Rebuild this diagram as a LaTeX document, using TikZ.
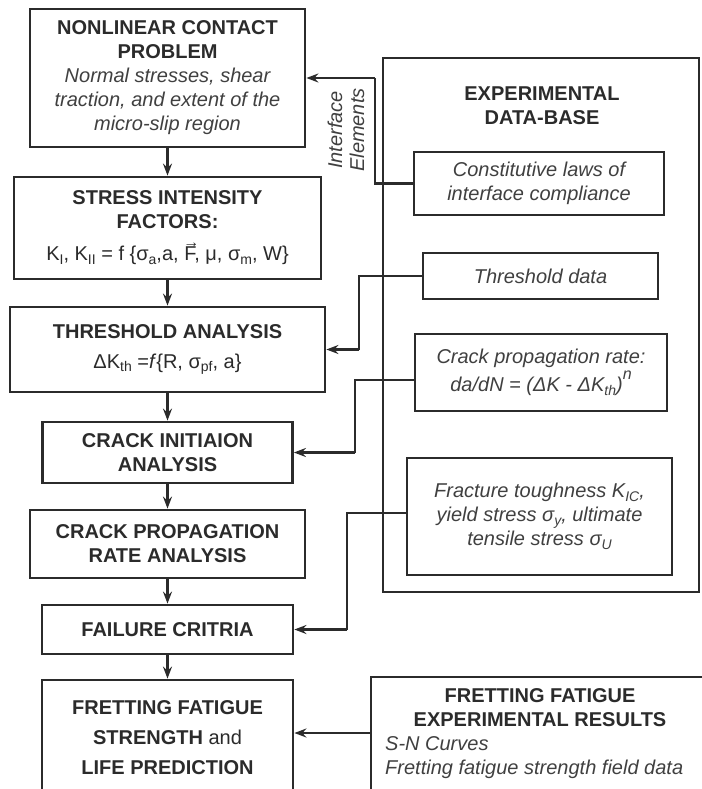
\documentclass[tikz,border=0pt]{standalone}
\usepackage{fontspec}
\setmainfont{Liberation Sans}
\usetikzlibrary{arrows.meta,calc}
\definecolor{ink}{gray}{0.17}
\definecolor{soft}{gray}{0.25}
\newcommand\sbx[1]{\raisebox{-0.35ex}{\fontsize{14}{14}\selectfont #1}}
\newcommand\vecF{\makebox[0pt][l]{\hspace*{-1pt}\raisebox{13pt}{\fontsize{16}{16}\selectfont →}}F}
\tikzset{
  box/.style={draw=ink, line width=2.8pt, inner sep=0pt, text=ink, align=center,
    font=\fontsize{20}{24}\selectfont},
  ibox/.style={box, text=soft, font=\fontsize{20}{24}\selectfont\itshape},
  lbl/.style={inner sep=0pt, text=ink, align=center, font=\fontsize{20}{24}\selectfont},
  arr/.style={draw=ink, line width=2.2pt, -{Stealth[length=12pt,width=9pt,inset=4pt]}},
  wire/.style={draw=ink, line width=2.2pt},
}
\begin{document}
\begin{tikzpicture}[x=1pt,y=-1pt]
\useasboundingbox (0,0) rectangle (701,789);
\fill[white] (0,0) rectangle (701,789);
% left column
\node[box, minimum width=275pt, minimum height=138pt] (b1) at (167.5,78)
  {\textbf{NONLINEAR CONTACT}\\\textbf{PROBLEM}\\\textit{\color{soft}Normal stresses, shear}\\\textit{\color{soft}traction, and extent of the}\\\textit{\color{soft}micro-slip region}};
\node[box, minimum width=307pt, minimum height=102pt] (b2) at (167.5,228)
  {\textbf{STRESS INTENSITY}\\\textbf{FACTORS:}\\[8pt]K\sbx{I}, K\sbx{II} = f \{σ\sbx{a},a, \vecF, μ, σ\sbx{m}, W\}};
\node[box, minimum width=315pt, minimum height=85pt] (b3) at (167.5,349.5)
  {\textbf{THRESHOLD ANALYSIS}\\[6pt]ΔK\sbx{th} =\textit{f}\{R, σ\sbx{pf}, a\}};
\node[box, minimum width=250pt, minimum height=61pt] (b4) at (167.5,452.5)
  {\textbf{CRACK INITIAION}\\\textbf{ANALYSIS}};
\node[box, minimum width=275pt, minimum height=68pt] (b5) at (167.5,544)
  {\textbf{CRACK PROPAGATION}\\\textbf{RATE ANALYSIS}};
\node[box, minimum width=251pt, minimum height=49pt] (b6) at (167.5,629.5)
  {\textbf{FAILURE CRITRIA}};
\node[box, minimum width=251pt, minimum height=116pt] (b7) at (167.5,738)
  {\textbf{FRETTING FATIGUE}\\[6pt]\textbf{STRENGTH} and\\[6pt]\textbf{LIFE PREDICTION}};
\foreach \a/\b in {b1/b2,b2/b3,b3/b4,b4/b5,b5/b6,b6/b7}
  \draw[arr] (\a.south) -- (\b.north);
% database
\node[box, minimum width=316pt, minimum height=534pt] (db) at (541,325) {};
\node[lbl] (dbt) at (542,106) {\textbf{EXPERIMENTAL}\\\textbf{DATA-BASE}};
\node[ibox, minimum width=250pt, minimum height=63pt] (c1) at (539,183.5)
  {Constitutive laws of\\interface compliance};
\node[ibox, minimum width=235pt, minimum height=46pt] (c2) at (540.5,276)
  {Threshold data};
\node[ibox, minimum width=252pt, minimum height=77pt] (c3) at (541,372.5)
  {Crack propagation rate:\\[2pt]da/dN = (ΔK - ΔK\sbx{th})\raisebox{1.2ex}{\fontsize{16}{16}\selectfont n}};
\node[ibox, minimum width=265pt, minimum height=117pt] (c4) at (539.5,516.5)
  {Fracture toughness K\sbx{IC},\\yield stress σ\sbx{y}, ultimate\\tensile stress σ\sbx{U}};
% fretting results
\node[box, minimum width=349pt, minimum height=128pt] (fr) at (545.5,741) {};
\node[lbl] (frt) at (540,708) {\textbf{FRETTING FATIGUE}\\\textbf{EXPERIMENTAL RESULTS}};
\node[lbl, anchor=west, align=left, text=soft, font=\fontsize{20}{24}\selectfont\itshape] (frl) at (385,757.5)
  {S-N Curves\\Fretting fatigue strength field data};
% interface label
\node[lbl, rotate=90, text=soft, font=\fontsize{20}{22}\selectfont\itshape] (ie) at (346,130)
  {Interface\\Elements};
% connectors
\coordinate (j1) at (375,0);
\coordinate (j2) at (359,0);
\coordinate (j3) at (355,0);
\coordinate (j4) at (347,0);
\coordinate (k3) at (0,380);
\coordinate (k4) at (0,513);
\coordinate (k7) at (0,733);
\draw[wire] (c1.west) -| (j1 |- b1.east);
\draw[arr] (j1 |- b1.east) -- (b1.east);
\draw[wire] (c2.west) -| (j2 |- b3.east);
\draw[arr] (j2 |- b3.east) -- (b3.east);
\draw[wire] (c3.west |- k3) -| (j3 |- b4.east);
\draw[arr] (j3 |- b4.east) -- (b4.east);
\draw[wire] (c4.west |- k4) -| (j4 |- b6.east);
\draw[arr] (j4 |- b6.east) -- (b6.east);
\draw[arr] (fr.west |- k7) -- (b7.east |- k7);
\end{tikzpicture}
\end{document}
